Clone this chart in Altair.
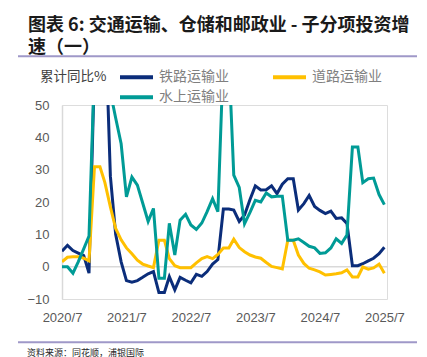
import altair as alt
import pandas as pd

# ---- data (cumulative YoY %, monthly; Jan shown equal to Jan-Feb) ----
months = pd.date_range("2020-07-01", "2025-07-01", freq="MS").strftime("%Y-%m-%dT00:00:00").tolist()
series_names = ["铁路运输业", "道路运输业", "水上运输业"]
series_colors = ["#0B2D7A", "#FFC000", "#009B96"]

rail = [4.8, 6.6, 5.0, 4.2, 3.4, -2.0,
        62, 62, 80, 28, 10, 1.5,
        -4.3, -4.8, -4.3, -3.3, -2.2, -1.5,
        -8.0, -8.0, -3.1, -7.2, -3.3, -4.2,
        -5.0, -2.4, -3.0, -1.5, 0.8, 2.2,
        17.8, 17.8, 17.5, 14.0, 16.0, 20.8,
        25.0, 23.7, 23.8, 25.0, 22.6, 25.5,
        27.2, 27.2, 17.5, 19.5, 22.0, 18.6,
        17.4, 16.4, 17.2, 14.9, 15.1, 13.4,
        0.3, 0.3, 0.9, 1.8, 2.6, 4.0,
        6.0]
road = [1.5, 2.9, 3.1, 3.1, 2.6, 1.8,
        30.9, 30.9, 26.0, 18.5, 11.8, 8.3,
        5.8, 4.0, 2.0, 0.8, 0.2, -0.3,
        8.2, 8.2, 2.5, 0.3, -0.3, -0.3,
        -0.3, 1.2, 2.5, 3.1, 2.5, 3.8,
        5.8, 5.8, 8.5, 5.9, 4.6, 3.6,
        3.0, 2.6, 1.3, 0.1, -0.3, -0.7,
        8.2, 8.2, 3.6, 1.0, -0.5, -1.0,
        -1.6, -2.6, -2.4, -2.2, -1.9, -1.0,
        -3.2, -3.2, -0.1, -0.8, -0.4, 0.8,
        -2.0]
water = [0.0, 0.0, -2.0, 1.5, 5.5, 9.5,
         62, 62, 65, 54, 46, 38,
         21.6, 27.7, 25.2, 19.7, 14.0, 18.0,
         -3.6, -3.6, 13.4, 3.6, 14.4, 16.2,
         12.9, 11.5, 13.5, 17.0, 21.0, 17.0,
         65, 65, 28.3, 24.5, 13.3, 16.8,
         20.5, 20.0, 22.8, 21.6, 21.8, 21.8,
         8.2, 8.2, 8.6, 7.5, 6.3, 5.8,
         4.1, 4.3, 5.8, 8.6, 7.2, 9.8,
         37, 37, 26, 27.2, 27.4, 22.3,
         19.2]

y_ticks = [-10, 0, 10, 20, 30, 40, 50]
x_tick_years = [2020, 2021, 2022, 2023, 2024, 2025]

title_lines = ["图表 6: 交通运输、仓储和邮政业 - 子分项投资增", "速（一）"]
unit_label = "累计同比%"
source_text = "资料来源：同花顺，浦银国际"

rows = []
for name, vals in zip(series_names, [rail, road, water]):
    for d, v in zip(months, vals):
        rows.append({"date": d, "series": name, "value": v})
df = pd.DataFrame(rows)

W, H = 325, 194
CJK = "Noto Sans CJK SC"
LAT = "Liberation Sans"

y_scale = alt.Scale(domain=[-10, 50], nice=False, zero=False)
y_axis = alt.Axis(values=y_ticks, title=None, grid=False, ticks=False, domain=True,
                  domainColor="#d9d9d9", domainWidth=1.5, labelOverlap=False,
                  labelFont=LAT, labelFontSize=13, labelColor="#595959", labelPadding=13)

x_enc = alt.X(
    "date:T",
    scale=alt.Scale(domain=[alt.DateTime(year=2020, month=7, date=1),
                            alt.DateTime(year=2025, month=7, date=16)]),
    axis=alt.Axis(values=[alt.DateTime(year=y, month=7, date=1) for y in x_tick_years],
                  format="%Y/%-m", title=None, domain=False, ticks=False, grid=False,
                  labelFlush=False, labelOverlap=False,
                  labelFont=LAT, labelFontSize=13, labelColor="#595959", labelPadding=12),
)
color_enc = alt.Color(
    "series:N",
    scale=alt.Scale(domain=series_names, range=series_colors),
    legend=alt.Legend(title=None, orient="none", direction="horizontal",
                      legendX=62.5, legendY=-39.7, columns=2, columnPadding=35, rowPadding=0,
                      symbolType="M-1.65,0H1.65", symbolSize=400, symbolStrokeWidth=4,
                      labelFont=CJK, labelFontSize=14, labelColor="#7f7f7f", labelOffset=10.5),
)

lines = alt.Chart(df).mark_line(strokeWidth=3, clip=True).encode(
    x=x_enc, y=alt.Y("value:Q", scale=y_scale, axis=y_axis), color=color_enc
)

zero = alt.Chart(pd.DataFrame({"value": [0]})).mark_rule(color="#d9d9d9", strokeWidth=1.5).encode(
    y=alt.Y("value:Q", scale=y_scale, axis=y_axis))

deco = pd.DataFrame({"k": [0]})
top_rule = alt.Chart(deco).mark_rule(color="#9f98c8", strokeWidth=2).encode(
    x=alt.value(-44), x2=alt.value(355), y=alt.value(-48.7))
bottom_rule = alt.Chart(deco).mark_rule(color="#9f98c8", strokeWidth=2).encode(
    x=alt.value(-44), x2=alt.value(355), y=alt.value(237.3))
unit = alt.Chart(deco).mark_text(align="left", baseline="middle", font=CJK,
                                 fontSize=13.5, color="#404040").encode(
    x=alt.value(-22), y=alt.value(-28), text=alt.value(unit_label))
source = alt.Chart(deco).mark_text(align="left", baseline="middle", font=CJK,
                                   fontSize=9, color="#262626").encode(
    x=alt.value(-35), y=alt.value(247.5), text=alt.value(source_text))

chart = alt.layer(zero, lines, top_rule, bottom_rule, unit, source).properties(
    width=W, height=H,
    autosize=alt.AutoSizeParams(type="none"),
    padding={"left": 54, "top": 97, "right": 32, "bottom": 58},
    title=alt.TitleParams(text=title_lines, anchor="start", frame="group", font=CJK,
                          fontSize=18, fontWeight="bold", color="#1a1a1a",
                          baseline="bottom", lineHeight=22, dx=-34, dy=24, offset=4),
).configure_view(stroke="transparent").configure(background="white")

chart.save("out.html", embed_options={"renderer": "svg", "actions": False})
